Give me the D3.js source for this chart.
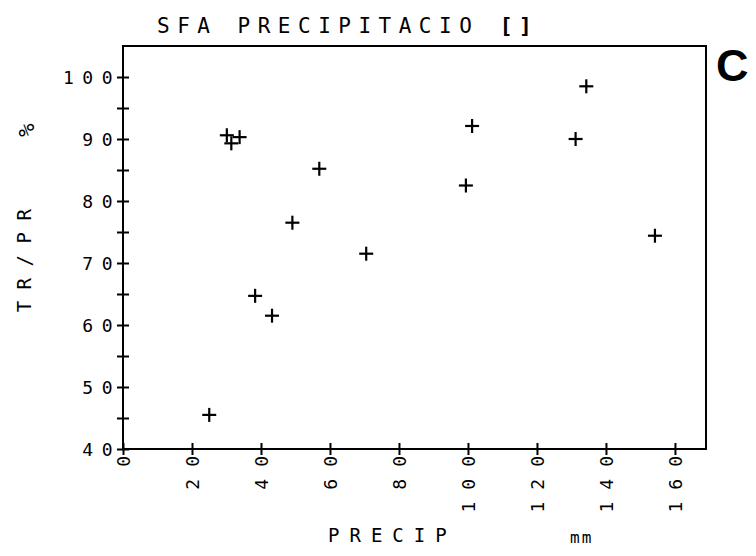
<!DOCTYPE html>
<html>
<head>
<meta charset="utf-8">
<script src="https://cdn.jsdelivr.net/npm/d3@7"></script>
<style>
  html, body { margin: 0; padding: 0; background: #fff; }
  svg { display: block; }
  text { font-family: "DejaVu Sans Mono", "Liberation Mono", monospace; fill: #000; }
</style>
</head>
<body>
<svg id="chart" width="756" height="556"></svg>
<script>
// Monthly precipitation (mm) against the TR/PR ratio (%)
const precip = [134.3, 101.2, 131.2, 30.1, 31.4, 33.8, 56.9, 99.4, 49.1, 154.2, 70.5, 38.3, 43.2, 25.0];
const ratio  = [98.5, 92.1, 90.0, 90.6, 89.3, 90.3, 85.2, 82.5, 76.5, 74.4, 71.5, 64.7, 61.5, 45.5];

const xTicks = [0, 20, 40, 60, 80, 100, 120, 140, 160];
const yTicks = [40, 45, 50, 55, 60, 65, 70, 75, 80, 85, 90, 95, 100];
const yLabelled = [40, 50, 60, 70, 80, 90, 100];

const titleText = "SFA PRECIPITACIO ";
const titleBox = "[]";
const yTitle = "TR/PR";
const yUnit = "%";
const xTitle = "PRECIP";
const unitText = "mm";
const panelLetter = "C";

const svg = d3.select("#chart");
const plotLeft = 123, plotRight = 706, plotTop = 46, plotBottom = 449;

const x = d3.scaleLinear().domain([0, 169]).range([plotLeft, plotRight]);
const y = d3.scaleLinear().domain([40, 105]).range([plotBottom, plotTop]);

// frame
svg.append("rect")
  .attr("x", plotLeft).attr("y", plotTop)
  .attr("width", plotRight - plotLeft).attr("height", plotBottom - plotTop)
  .attr("fill", "none").attr("stroke", "#000").attr("stroke-width", 2);

// y axis: crossing ticks every 5, labels every 10
const yAxis = svg.append("g")
  .attr("transform", `translate(${plotLeft},0)`)
  .call(d3.axisLeft(y).tickValues(yTicks).tickSize(5)
    .tickFormat(d => yLabelled.includes(d) ? String(d) : ""));
yAxis.select(".domain").remove();
yAxis.selectAll(".tick line")
  .attr("x1", -6).attr("x2", 6)
  .attr("stroke", "#000").attr("stroke-width", 2);
yAxis.selectAll(".tick text")
  .attr("x", -2).attr("dx", "0")
  .style("font-size", "18px").attr("letter-spacing", "8.5px")
  .attr("dy", "0.36em");

// x axis: crossing ticks every 20, labels rotated
const xAxis = svg.append("g")
  .attr("transform", `translate(0,${plotBottom})`)
  .call(d3.axisBottom(x).tickValues(xTicks).tickSize(5).tickFormat(d => String(d)));
xAxis.select(".domain").remove();
xAxis.selectAll(".tick line")
  .attr("y1", -6).attr("y2", 6)
  .attr("stroke", "#000").attr("stroke-width", 2);
xAxis.selectAll(".tick text")
  .attr("transform", "rotate(-90)")
  .attr("text-anchor", "end")
  .attr("x", -2).attr("y", 0).attr("dy", "0.36em").attr("dx", "7")
  .style("font-size", "18px").attr("letter-spacing", "12px");

// markers
const arm = 7;
const marks = svg.append("g").attr("stroke", "#000").attr("stroke-width", 2.2);
precip.forEach((p, i) => {
  const cx = x(p), cy = y(ratio[i]);
  marks.append("line").attr("x1", cx - arm).attr("x2", cx + arm).attr("y1", cy).attr("y2", cy);
  marks.append("line").attr("x1", cx).attr("x2", cx).attr("y1", cy - arm).attr("y2", cy + arm);
});

// title
const t = svg.append("text")
  .attr("x", 157).attr("y", 33)
  .style("font-size", "21px").attr("letter-spacing", "7.5px");
t.append("tspan").text(titleText);
t.append("tspan").style("font-weight", "bold").style("font-size", "22px")
  .attr("letter-spacing", "6px").text(titleBox);

// axis titles
svg.append("text")
  .attr("transform", "translate(24,261) rotate(-90)")
  .attr("text-anchor", "middle").attr("dominant-baseline", "central")
  .attr("dx", 6)
  .style("font-size", "19px").attr("letter-spacing", "11.5px")
  .text(yTitle);
svg.append("text")
  .attr("transform", "translate(26,130) rotate(-90)")
  .attr("text-anchor", "middle").attr("dominant-baseline", "central")
  .style("font-size", "22px")
  .text(yUnit);

svg.append("text")
  .attr("x", 328).attr("y", 542)
  .style("font-size", "19px").attr("letter-spacing", "10px")
  .text(xTitle);
svg.append("text")
  .attr("x", 570).attr("y", 543)
  .style("font-size", "16px").attr("letter-spacing", "2px")
  .text(unitText);

// panel letter
svg.append("text")
  .attr("x", 716).attr("y", 81)
  .style("font-family", "'Liberation Sans', Arial, sans-serif")
  .style("font-weight", "bold").style("font-size", "45px")
  .text(panelLetter);
</script>
</body>
</html>
